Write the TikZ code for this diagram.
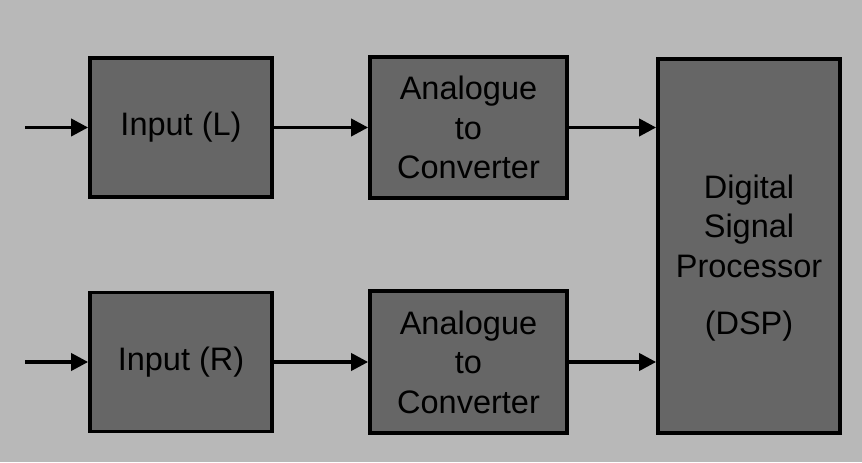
\documentclass[tikz,border=0pt]{standalone}
\usepackage{fontspec}
\setmainfont{Liberation Sans}
\usetikzlibrary{positioning,arrows.meta}
\definecolor{panel}{RGB}{184,184,184}
\definecolor{block}{RGB}{102,102,102}
\tikzset{%
  stage/.style={draw, line width=2.1pt, fill=block, rectangle, align=center,
    font=\fontsize{18.5}{22.5}\selectfont, inner sep=0pt},% processing block
  input/.style={stage, minimum width=3.64cm, minimum height=2.78cm},% input block
  adc/.style={stage, minimum width=3.94cm, minimum height=2.83cm},% converter block
  signal/.style={line width=2.1pt, -{Triangle[length=0.34cm, width=0.34cm]}}% signal line
}
\begin{document}
\begin{tikzpicture}
\fill[panel] (0,0) rectangle (17.24,9.24);
\useasboundingbox (0,0) rectangle (17.24,9.24);
\node[input] (inL) at (3.62, 6.69) {Input (L)};
\node[input] (inR) at (3.62, 2.0) {Input (R)};
\node[adc] (adcL) at (9.37, 6.69) {Analogue\\to\\Converter};
\node[adc] (adcR) at (9.37, 2.0) {Analogue\\to\\Converter};
\node[stage, minimum width=3.64cm, minimum height=7.48cm] (dsp) at (14.98, 4.32)
  {\rule{0pt}{0.95cm}Digital\\Signal\\Processor\\[0.35cm](DSP)};
\coordinate (srcL) at (0.5, 6.69);
\coordinate (srcR) at (0.5, 2.0);
\draw[signal] (srcL) -- (inL);
\draw[signal] (srcR) -- (inR);
\draw[signal] (inL) -- (adcL);
\draw[signal] (inR) -- (adcR);
\draw[signal] (adcL.east) -- (adcL.east -| dsp.west);
\draw[signal] (adcR.east) -- (adcR.east -| dsp.west);
\end{tikzpicture}
\end{document}
